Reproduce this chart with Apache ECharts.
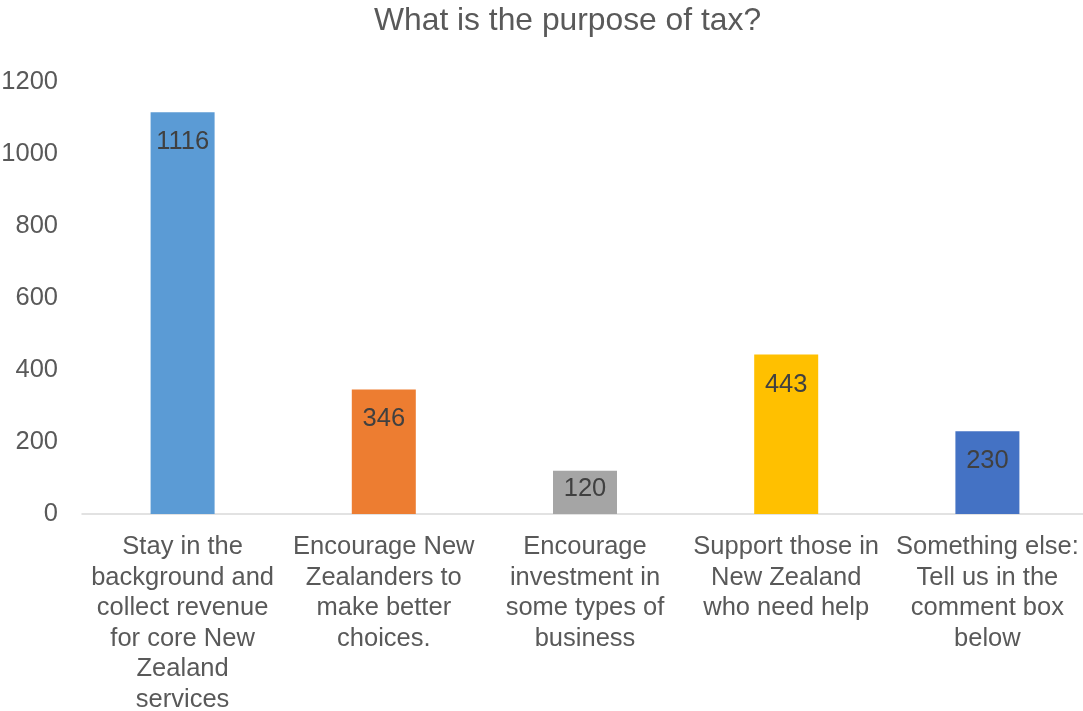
<!DOCTYPE html>
<html>
<head>
<meta charset="utf-8">
<title>What is the purpose of tax?</title>
<script src="https://cdn.jsdelivr.net/npm/echarts@6/dist/echarts.min.js"></script>
<style>
  html, body { margin: 0; padding: 0; background: #ffffff; }
  #chart { width: 1083px; height: 711px; }
</style>
</head>
<body>
<div id="chart"></div>
<script>
// Survey answers: what is the purpose of tax?
const categories = [
  'Stay in the\nbackground and\ncollect revenue\nfor core New\nZealand\nservices',
  'Encourage New\nZealanders to\nmake better\nchoices.',
  'Encourage\ninvestment in\nsome types of\nbusiness',
  'Support those in\nNew Zealand\nwho need help',
  'Something else:\nTell us in the\ncomment box\nbelow'
];
const responses = [1116, 346, 120, 443, 230];
const barColors = ['#5B9BD5', '#ED7D31', '#A5A5A5', '#FFC000', '#4472C4'];
const yTicks = [0, 200, 400, 600, 800, 1000, 1200];

const FONT = '"Liberation Sans", Arial, sans-serif';

const chart = echarts.init(document.getElementById('chart'), null, { renderer: 'canvas' });

chart.setOption({
  animation: false,
  backgroundColor: '#ffffff',
  title: {
    text: 'What is the purpose of tax?',
    left: 369,
    top: 0,
    textStyle: { fontFamily: FONT, fontSize: 31.8, fontWeight: 'normal', color: '#595959' }
  },
  grid: {
    left: 82, top: 82, width: 1006, height: 432,
    containLabel: false,
    outerBoundsMode: 'none'
  },
  xAxis: {
    type: 'category',
    data: categories,
    axisLine: { show: true, lineStyle: { color: '#D9D9D9', width: 1.5 } },
    axisTick: { show: false },
    axisLabel: {
      interval: 0,
      margin: 18,
      fontFamily: FONT,
      fontSize: 25.5,
      lineHeight: 30.5,
      color: '#595959',
      align: 'center'
    }
  },
  yAxis: {
    type: 'value',
    min: yTicks[0],
    max: yTicks[yTicks.length - 1],
    interval: 200,
    splitLine: { show: false },
    axisLine: { show: false },
    axisTick: { show: false },
    axisLabel: {
      margin: 24,
      fontFamily: FONT,
      fontSize: 25.5,
      color: '#595959',
      formatter: (v) => String(v)
    }
  },
  series: [{
    type: 'bar',
    barWidth: 64,
    data: responses.map((v, i) => ({
      value: v,
      itemStyle: { color: barColors[i] },
      label: { distance: v < 200 ? 5 : 17 }
    })),
    label: {
      show: true,
      position: 'insideTop',
      fontFamily: FONT,
      fontSize: 25.5,
      color: '#404040'
    }
  }]
});
</script>
</body>
</html>
